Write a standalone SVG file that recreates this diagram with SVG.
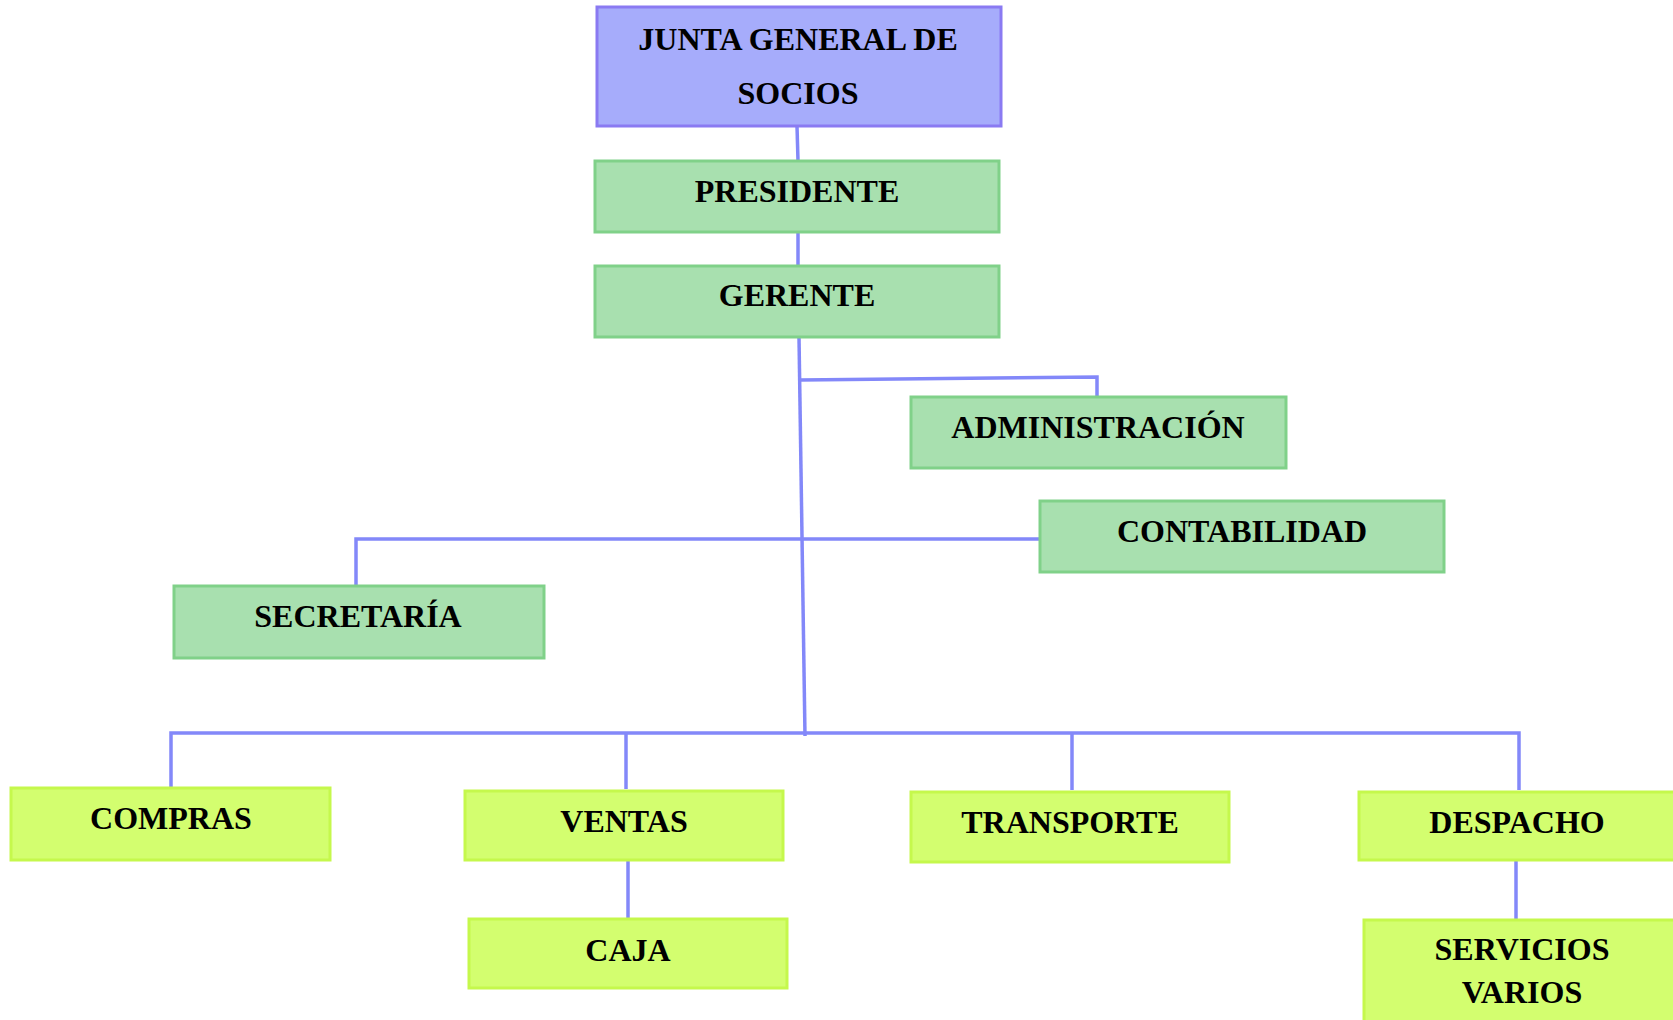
<svg xmlns="http://www.w3.org/2000/svg" width="1673" height="1020" viewBox="0 0 1673 1020">
<style>
.lbl{font-family:"Liberation Serif","Times New Roman",serif;font-weight:bold;font-size:32px;fill:#000;text-anchor:middle}
.top{fill:#a6acfb;stroke:#8a7af2;stroke-width:3}
.green{fill:#a8e0af;stroke:#80d189;stroke-width:3}
.lime{fill:#d3fe6f;stroke:#c5f84c;stroke-width:3}
.con{fill:none;stroke:#8388f9;stroke-width:3.5}
</style>
<rect width="1673" height="1020" fill="#fff"/>
<g id="connectors">
<path class="con" d="M797 126 L798 161"/>
<path class="con" d="M798 232 L798 266"/>
<path class="con" d="M799 337 L805 736"/>
<path class="con" d="M800 380 L1097 377 L1097 397"/>
<path class="con" d="M356 586 L356 539 L1040 539"/>
<path class="con" d="M171 788 L171 733 L1519 733 L1519 790"/>
<path class="con" d="M626 733 L626 789"/>
<path class="con" d="M1072 733 L1072 790"/>
<path class="con" d="M628 860 L628 919"/>
<path class="con" d="M1516 860 L1516 919"/>
</g>
<g id="junta"><rect class="top" x="597" y="7" width="404" height="119"/><text class="lbl" x="798" y="50">JUNTA GENERAL DE</text><text class="lbl" x="798" y="104">SOCIOS</text></g>
<g id="presidente"><rect class="green" x="595" y="161" width="404" height="71"/><text class="lbl" x="797" y="202">PRESIDENTE</text></g>
<g id="gerente"><rect class="green" x="595" y="266" width="404" height="71"/><text class="lbl" x="797" y="306">GERENTE</text></g>
<g id="administracion"><rect class="green" x="911" y="397" width="375" height="71"/><text class="lbl" x="1098" y="438">ADMINISTRACIÓN</text></g>
<g id="contabilidad"><rect class="green" x="1040" y="501" width="404" height="71"/><text class="lbl" x="1242" y="542">CONTABILIDAD</text></g>
<g id="secretaria"><rect class="green" x="174" y="586" width="370" height="72"/><text class="lbl" x="358" y="627">SECRETARÍA</text></g>
<g id="compras"><rect class="lime" x="11" y="788" width="319" height="72"/><text class="lbl" x="171" y="829">COMPRAS</text></g>
<g id="ventas"><rect class="lime" x="465" y="791" width="318" height="69"/><text class="lbl" x="624" y="832">VENTAS</text></g>
<g id="transporte"><rect class="lime" x="911" y="792" width="318" height="70"/><text class="lbl" x="1070" y="833">TRANSPORTE</text></g>
<g id="despacho"><rect class="lime" x="1359" y="792" width="330" height="68"/><text class="lbl" x="1517" y="833">DESPACHO</text></g>
<g id="caja"><rect class="lime" x="469" y="919" width="318" height="69"/><text class="lbl" x="628" y="961">CAJA</text></g>
<g id="servicios"><rect class="lime" x="1364" y="920" width="330" height="120"/><text class="lbl" x="1522" y="960">SERVICIOS</text><text class="lbl" x="1522" y="1003">VARIOS</text></g>
</svg>
